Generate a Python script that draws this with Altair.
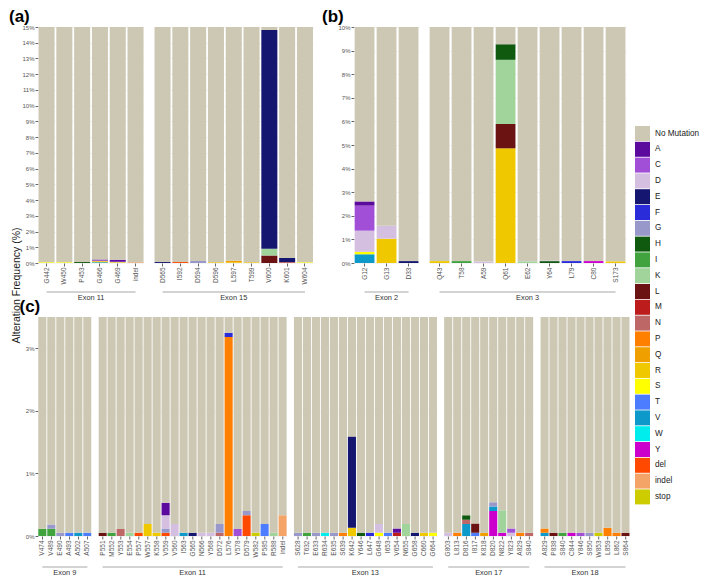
import altair as alt
import pandas as pd

FONT = "Liberation Sans"

TYPES = ["No Mutation", "A", "C", "D", "E", "F", "G", "H", "I", "K", "L", "M", "N",
         "P", "Q", "R", "S", "T", "V", "W", "Y", "del", "indel", "stop"]
COLORS = ["#CCC8B3", "#5C0A9E", "#A24FD8", "#D4BFE1", "#141670", "#2B2CD9", "#9898CA",
          "#105A10", "#40A33E", "#A0D49B", "#6B1212", "#BC1C1C", "#BE6767", "#FF7F00",
          "#EFA000", "#EFC800", "#FFFF00", "#4C7CFF", "#0D9ACB", "#00EDED", "#CC00CC",
          "#FF4800", "#F5A468", "#CCCC00"]

# ---------------- panel (a) ----------------
A_EXONS = ["Exon 11", "Exon 15"]
A_EX11_SITES = ["G442", "W450", "P453", "G466", "G469", "indel"]
A_EX11_MUTS = [{"S": 0.05}, {"S": 0.05}, {"H": 0.06},
               {"V": 0.05, "S": 0.04, "Q": 0.04, "C": 0.04, "A": 0.05},
               {"S": 0.05, "C": 0.03, "A": 0.12}, {"indel": 0.05}]
A_EX15_SITES = ["D565", "I592", "D594", "D596", "L597", "T599", "V600", "K601", "W604"]
A_EX15_MUTS = [{"E": 0.06}, {"del": 0.06}, {"G": 0.13}, {"R": 0.05},
               {"R": 0.04, "Q": 0.10}, {"R": 0.05},
               {"L": 0.47, "K": 0.44, "E": 13.90}, {"N": 0.07, "E": 0.25}, {"S": 0.05}]

# ---------------- panel (b) ----------------
B_EXONS = ["Exon 2", "Exon 3"]
B_EX2_SITES = ["G12", "G13", "D33"]
B_EX2_MUTS = [{"V": 0.37, "S": 0.10, "D": 0.90, "C": 1.06, "A": 0.18},
              {"R": 1.03, "D": 0.55}, {"E": 0.08}]
B_EX3_SITES = ["Q43", "T58", "A59", "Q61", "E62", "Y64", "L79", "C80", "S173"]
B_EX3_MUTS = [{"R": 0.08}, {"I": 0.08}, {"D": 0.06},
              {"R": 4.86, "L": 1.03, "K": 2.72, "H": 0.66},
              {"K": 0.07}, {"H": 0.08, "D": 0.03}, {"F": 0.08}, {"Y": 0.08}, {"R": 0.07}]

# ---------------- panel (c) ----------------
C_EXONS = ["Exon 9", "Exon 11", "Exon 13", "Exon 17", "Exon 18"]
C_EX9_SITES = ["V474", "V489", "E490", "A493", "A502", "A507"]
C_EX9_MUTS = [{"I": 0.115}, {"I": 0.115, "G": 0.07}, {"G": 0.05}, {"T": 0.05},
              {"V": 0.05}, {"T": 0.05}]
C_EX11_SITES = ["P551", "M552", "Y553", "E554", "P557", "W557", "K558", "V559", "V560",
                "I563", "G565", "N566", "Y568", "D572", "L576", "Y578", "D579", "W582",
                "P585", "R588", "indel"]
C_EX11_MUTS = [{"L": 0.05}, {"I": 0.05}, {"N": 0.11}, {"K": 0.05}, {"del": 0.05},
               {"R": 0.19}, {"R": 0.05},
               {"del": 0.05, "G": 0.07, "D": 0.21, "A": 0.20},
               {"D": 0.19}, {"V": 0.05}, {"E": 0.05}, {"D": 0.05}, {"D": 0.05},
               {"N": 0.05, "G": 0.14}, {"P": 3.18, "F": 0.07}, {"C": 0.11},
               {"del": 0.33, "G": 0.07}, {"stop": 0.05}, {"T": 0.19}, {"K": 0.05},
               {"indel": 0.33}]
C_EX13_SITES = ["S628", "T632", "E633", "R634", "E635", "S639", "K642", "Y646", "L647",
                "G648", "I653", "V654", "N655", "G658", "C660", "G664"]
C_EX13_MUTS = [{"G": 0.05}, {"I": 0.05}, {"G": 0.05}, {"W": 0.05}, {"G": 0.05},
               {"P": 0.05}, {"R": 0.13, "E": 1.46}, {"H": 0.05}, {"F": 0.05},
               {"S": 0.05, "D": 0.14}, {"T": 0.05}, {"M": 0.05, "A": 0.07},
               {"K": 0.19}, {"E": 0.05}, {"R": 0.05}, {"S": 0.05}]
C_EX17_SITES = ["G803", "L813", "D816", "I817", "K818", "D820", "N822", "Y823", "A829", "S840"]
C_EX17_MUTS = [{"D": 0.05}, {"P": 0.05}, {"V": 0.19, "N": 0.07, "H": 0.07},
               {"T": 0.05, "L": 0.15}, {"Q": 0.05}, {"Y": 0.40, "V": 0.07, "G": 0.07},
               {"Y": 0.05, "K": 0.36}, {"D": 0.05, "C": 0.07}, {"P": 0.05}, {"N": 0.05}]
C_EX18_SITES = ["A829", "P838", "S840", "C844", "Y846", "S850", "W853", "L859", "L862", "S864"]
C_EX18_MUTS = [{"V": 0.05, "P": 0.07}, {"L": 0.05}, {"I": 0.05}, {"Y": 0.05}, {"C": 0.05},
               {"G": 0.05}, {"stop": 0.05}, {"P": 0.13}, {"P": 0.05}, {"L": 0.05}]


def make_df(exons, sites_list, muts_list):
    rows = []
    n = 0
    for exon, sites, muts in zip(exons, sites_list, muts_list):
        keys = []
        for s in sites:
            keys.append("%03d|%s" % (n, s))
            n += 1
        for i, (k, m) in enumerate(zip(keys, muts)):
            base = {"exon": exon, "key": k, "first": keys[0], "last": keys[-1]}
            for t, v in m.items():
                rows.append({**base, "type": t, "value": v,
                             "ord": -TYPES.index(t), "isfirst": False})
            rows.append({**base, "type": "No Mutation", "value": 100 - sum(m.values()),
                         "ord": 0, "isfirst": i == 0})
    return pd.DataFrame(rows)


LEG = alt.Legend(title=None, orient="none", legendX=597, legendY=99, direction="vertical",
                 symbolType="square", symbolSize=225, symbolStrokeWidth=0, symbolOpacity=1,
                 labelFontSize=8.2, labelColor="#222222", labelOffset=5, rowPadding=0.8,
                 labelFont=FONT)

HDR = alt.Header(title=None, labelOrient="bottom", labelFontSize=7.4,
                 labelColor="#333333", labelPadding=1, labelFont=FONT)


def panel(df, exons, step, height, ymax, yvals, spacing, title, title_dx,
          ytitle=None, rule_dy=29, title_offset=1):
    xscale = alt.Scale(paddingInner=0.1, paddingOuter=0.03)
    xax = alt.Axis(title=None, labelAngle=-90, labelExpr="split(datum.label, '|')[1]",
                   labelFontSize=6.5, labelColor="#555555", labelFont=FONT, tickSize=3,
                   tickColor="#666666", domain=False, labelPadding=1)
    ykw = dict(values=yvals, labelExpr="datum.value + '%'", tickSize=3,
               tickColor="#666666", labelColor="#555555", labelFontSize=6,
               labelFont=FONT, labelPadding=1, domain=False, grid=True,
               gridColor="#EDEDED", gridWidth=0.6)
    if ytitle:
        yax = alt.Axis(title=ytitle, titleX=-17, titleY=-32, titleFontSize=10.5,
                       titleFontWeight="normal", titleColor="#222222", titleFont=FONT,
                       titleAlign="center", **ykw)
    else:
        yax = alt.Axis(title=None, **ykw)
    bars = alt.Chart().mark_bar(clip=True).encode(
        x=alt.X("key:N", sort="ascending", axis=xax, scale=xscale),
        y=alt.Y("value:Q", stack="zero", axis=yax,
                scale=alt.Scale(domain=[0, ymax], nice=False)),
        color=alt.Color("type:N", scale=alt.Scale(domain=TYPES, range=COLORS), legend=LEG),
        order=alt.Order("ord:Q", sort="ascending"),
    )
    rule = alt.Chart().transform_filter("datum.isfirst").mark_rule(
        color="#C4C4C4", strokeWidth=1.6).encode(
        x=alt.X("first:N", sort="ascending", axis=xax, scale=xscale),
        x2=alt.X2("last:N"),
        y=alt.value(height + rule_dy),
    )
    lay = alt.layer(bars, rule, data=df).properties(width=alt.Step(step), height=height)
    return lay.facet(
        column=alt.Column("exon:N", sort=exons, header=HDR), spacing=spacing
    ).resolve_scale(x="independent").properties(
        title=alt.Title(title, anchor="start", fontSize=17, fontWeight="bold", dx=title_dx,
                        offset=title_offset, color="black", font=FONT))


dfA = make_df(A_EXONS, [A_EX11_SITES, A_EX15_SITES], [A_EX11_MUTS, A_EX15_MUTS])
dfB = make_df(B_EXONS, [B_EX2_SITES, B_EX3_SITES], [B_EX2_MUTS, B_EX3_MUTS])
dfC = make_df(C_EXONS,
              [C_EX9_SITES, C_EX11_SITES, C_EX13_SITES, C_EX17_SITES, C_EX18_SITES],
              [C_EX9_MUTS, C_EX11_MUTS, C_EX13_MUTS, C_EX17_MUTS, C_EX18_MUTS])

pA = panel(dfA, A_EXONS, 17.8, 236, 15, list(range(0, 16)), 9, "(a)", -13, title_offset=-2)
pB = panel(dfB, B_EXONS, 22, 236, 10, list(range(0, 11)), 9, "(b)", -16, title_offset=-2)
pC = panel(dfC, C_EXONS, 9.0, 219, 3.5, [0, 1, 2, 3], 6.3, "(c)", 8.5,
           ytitle="Alteration Frequency (%)", rule_dy=31, title_offset=-89)

row1 = alt.hconcat(pA, pB, spacing=7)
chart = alt.vconcat(row1, pC, spacing=-76).properties(padding=0).configure(
    font=FONT).configure_view(stroke=None)

chart.save("out.html", embed_options={"renderer": "svg", "actions": False})
